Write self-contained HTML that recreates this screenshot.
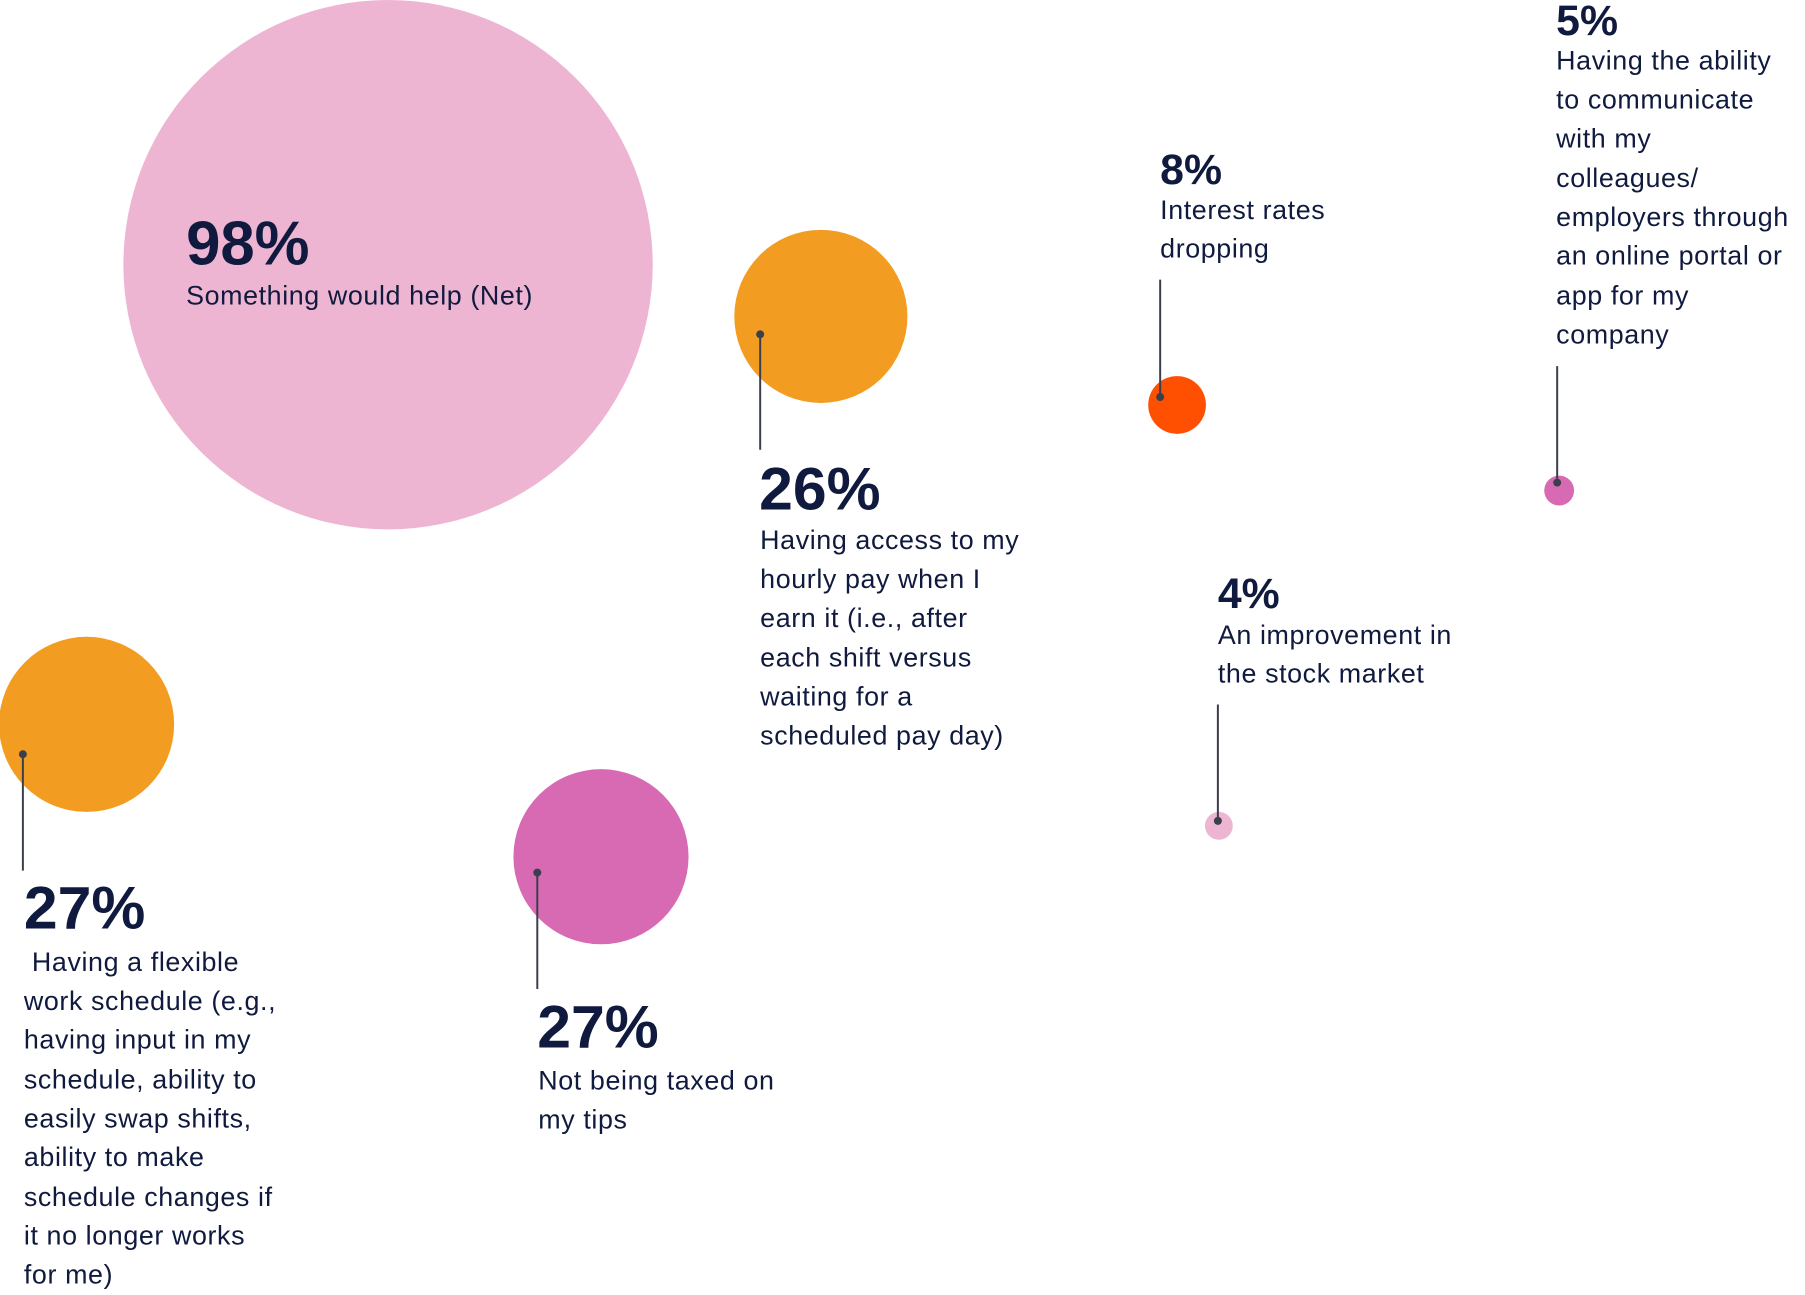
<!DOCTYPE html>
<html><head><meta charset="utf-8"><style>
html,body{margin:0;padding:0;background:#fff;}
svg{display:block}
text{font-family:"Liberation Sans",sans-serif;fill:#0f1a3e;}
.n{font-weight:bold;}
.b{font-size:27px;letter-spacing:0.6px;}
</style></head><body>
<svg width="1805" height="1295" viewBox="0 0 1805 1295" xmlns="http://www.w3.org/2000/svg">
<g transform="scale(0.995)">
<circle cx="390" cy="266" r="266" fill="#eeb5d3"/>
<circle cx="825" cy="318" r="87" fill="#f39c22"/>
<circle cx="1183" cy="407" r="29" fill="#ff4f00"/>
<circle cx="1567" cy="493" r="15" fill="#d869b3"/>
<circle cx="1225" cy="830" r="14" fill="#eeb5d3"/>
<circle cx="87" cy="728" r="88" fill="#f39c22"/>
<circle cx="604" cy="861" r="88" fill="#d869b3"/>
<g stroke="#3a3f4d" stroke-width="2">
<line x1="764" y1="336" x2="764" y2="452"/>
<line x1="1166" y1="281" x2="1166" y2="399"/>
<line x1="1565" y1="368" x2="1565" y2="485"/>
<line x1="1224" y1="708" x2="1224" y2="825"/>
<line x1="23" y1="758" x2="23" y2="875"/>
<line x1="540" y1="877" x2="540" y2="994"/>
</g>
<g fill="#3a3f4d">
<circle cx="764" cy="336" r="4"/><circle cx="1166" cy="399" r="4"/><circle cx="1565" cy="485" r="4"/>
<circle cx="1224" cy="825" r="4"/><circle cx="23" cy="758" r="4"/><circle cx="540" cy="877" r="4"/>
</g>
<text class="n" x="187" y="266" font-size="62">98%</text>
<text class="b" x="187" y="306">Something would help (Net)</text>

<text class="n" x="763" y="512" font-size="61">26%</text>
<text class="b" x="764" y="552">Having access to my</text>
<text class="b" x="764" y="591">hourly pay when I</text>
<text class="b" x="764" y="630">earn it (i.e., after</text>
<text class="b" x="764" y="670">each shift versus</text>
<text class="b" x="764" y="709">waiting for a</text>
<text class="b" x="764" y="748">scheduled pay day)</text>

<text class="n" x="1166" y="185" font-size="43">8%</text>
<text class="b" x="1166" y="220">Interest rates</text>
<text class="b" x="1166" y="259">dropping</text>

<text class="n" x="1564" y="35" font-size="43">5%</text>
<text class="b" x="1564" y="70">Having the ability</text>
<text class="b" x="1564" y="109">to communicate</text>
<text class="b" x="1564" y="148">with my</text>
<text class="b" x="1564" y="188">colleagues/</text>
<text class="b" x="1564" y="227">employers through</text>
<text class="b" x="1564" y="266">an online portal or</text>
<text class="b" x="1564" y="306">app for my</text>
<text class="b" x="1564" y="345">company</text>

<text class="n" x="1224" y="611" font-size="43">4%</text>
<text class="b" x="1224" y="647">An improvement in</text>
<text class="b" x="1224" y="686">the stock market</text>

<text class="n" x="24" y="933" font-size="61">27%</text>
<text class="b" x="24" y="976" xml:space="preserve"> Having a flexible</text>
<text class="b" x="24" y="1015">work schedule (e.g.,</text>
<text class="b" x="24" y="1054">having input in my</text>
<text class="b" x="24" y="1094">schedule, ability to</text>
<text class="b" x="24" y="1133">easily swap shifts,</text>
<text class="b" x="24" y="1172">ability to make</text>
<text class="b" x="24" y="1212">schedule changes if</text>
<text class="b" x="24" y="1251">it no longer works</text>
<text class="b" x="24" y="1290">for me)</text>

<text class="n" x="540" y="1053" font-size="61">27%</text>
<text class="b" x="541" y="1095">Not being taxed on</text>
<text class="b" x="541" y="1134">my tips</text>
</g>
</svg>
</body></html>
